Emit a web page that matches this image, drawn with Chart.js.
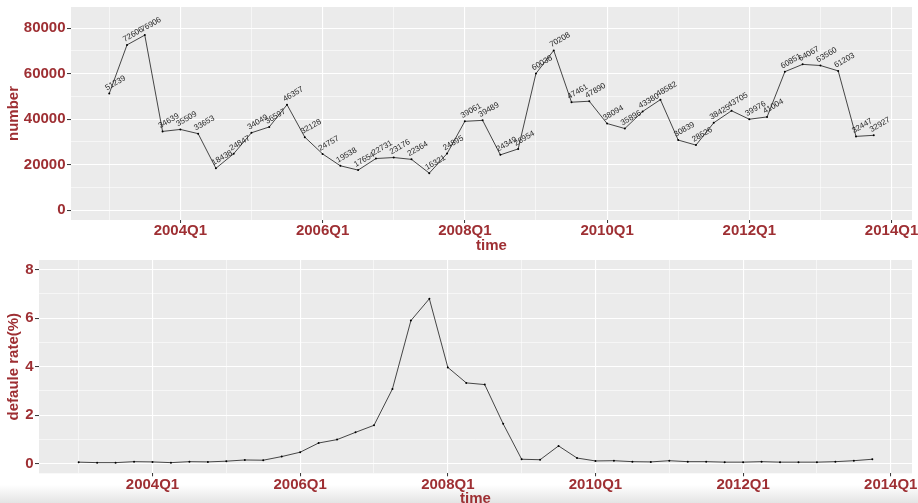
<!DOCTYPE html>
<html>
<head>
<meta charset="utf-8">
<title>number and default rate by quarter</title>
<script src="https://cdn.jsdelivr.net/npm/chart.js@4/dist/chart.umd.min.js"></script>
<style>
  html, body { margin: 0; padding: 0; width: 918px; height: 503px; overflow: hidden; background: #fff; }
  #shade { position: absolute; left: 0; top: 485px; width: 918px; height: 18px; background: linear-gradient(#ffffff, #e4e4e4); }
  canvas { position: absolute; left: 0; }
  #c1 { top: 0; }
  #c2 { top: 252px; }
</style>
</head>
<body>
<div id="shade"></div>
<canvas id="c1" width="918" height="256"></canvas>
<canvas id="c2" width="918" height="262"></canvas>
<script>
// quarters 2003Q1 .. 2013Q4
const quarters = [
  '2003Q1','2003Q2','2003Q3','2003Q4','2004Q1','2004Q2','2004Q3','2004Q4',
  '2005Q1','2005Q2','2005Q3','2005Q4','2006Q1','2006Q2','2006Q3','2006Q4',
  '2007Q1','2007Q2','2007Q3','2007Q4','2008Q1','2008Q2','2008Q3','2008Q4',
  '2009Q1','2009Q2','2009Q3','2009Q4','2010Q1','2010Q2','2010Q3','2010Q4',
  '2011Q1','2011Q2','2011Q3','2011Q4','2012Q1','2012Q2','2012Q3','2012Q4',
  '2013Q1','2013Q2','2013Q3','2013Q4'
];

// number per quarter
const numbers = [
  51239, 72606, 76906, 34639, 35509, 33653, 18438, 24847,
  34049, 36597, 46357, 32128, 24757, 19538, 17654, 22731,
  23176, 22364, 16321, 24895, 39061, 39489, 24349, 26954,
  60038, 70208, 47461, 47890, 38094, 35896, 43380, 48582,
  30839, 28626, 38425, 43705, 39976, 41004, 60851, 64067,
  63560, 61203, 32447, 32927
];

// default rate (%) per quarter
const defaultRate = [
  0.06, 0.04, 0.04, 0.08, 0.07, 0.04, 0.08, 0.07,
  0.10, 0.15, 0.14, 0.29, 0.47, 0.85, 0.99, 1.29,
  1.58, 3.08, 5.90, 6.80, 3.97, 3.33, 3.26, 1.64,
  0.18, 0.16, 0.73, 0.23, 0.11, 0.12, 0.08, 0.07,
  0.12, 0.08, 0.08, 0.06, 0.06, 0.08, 0.06, 0.06,
  0.06, 0.08, 0.12, 0.18
];

// axis breaks
const timeTicks = ['2004Q1', '2006Q1', '2008Q1', '2010Q1', '2012Q1', '2014Q1'];
const numberTicks = [0, 20000, 40000, 60000, 80000];
const rateTicks = [0, 2, 4, 6, 8];

const RED = '#9e2f33';
const FAMILY = '"Liberation Sans", Arial, Helvetica, sans-serif';

// position of a 'YYYYQn' label on the quarter axis (2003Q1 = 0)
function qIndex(label) {
  const y = +label.slice(0, 4), q = +label.slice(5);
  return (y - 2003) * 4 + (q - 1);
}
const xMajor = timeTicks.map(qIndex);
const xMinor = xMajor.map(v => v - 4);
const midpoints = arr => arr.slice(1).map((v, i) => (v + arr[i]) / 2);

// grey panel behind the plotting area
const panelBg = {
  id: 'panelBg',
  beforeDraw(chart) {
    const { ctx, chartArea: a } = chart;
    ctx.save();
    ctx.fillStyle = '#ebebeb';
    ctx.fillRect(a.left, a.top, a.right - a.left, a.bottom - a.top);
    ctx.restore();
  }
};

// slanted value text starting at each point
const valueLabels = {
  id: 'valueLabels',
  afterDatasetsDraw(chart, args, opts) {
    if (!opts || !opts.show) return;
    const meta = chart.getDatasetMeta(0);
    const data = chart.data.datasets[0].data;
    const ctx = chart.ctx;
    ctx.save();
    ctx.font = '8px ' + FAMILY;
    ctx.fillStyle = '#1e1e1e';
    ctx.textAlign = 'left';
    ctx.textBaseline = 'middle';
    meta.data.forEach((pt, i) => {
      ctx.save();
      ctx.translate(pt.x, pt.y);
      ctx.rotate(-30 * Math.PI / 180);
      ctx.fillText(String(data[i].y), -0.5, -6);
      ctx.restore();
    });
    ctx.restore();
  }
};

function makeChart(canvas, values, cfg) {
  const yMinor = midpoints(cfg.yTicks);
  const isMajorX = v => xMajor.includes(v);
  const isMajorY = v => cfg.yTicks.includes(v);
  return new Chart(canvas, {
    type: 'line',
    data: {
      datasets: [{
        data: values.map((v, i) => ({ x: qIndex(quarters[i]), y: v })),
        borderColor: '#1a1a1a',
        borderWidth: 0.8,
        pointRadius: 1,
        pointBackgroundColor: '#000',
        pointBorderWidth: 0,
        tension: 0,
        fill: false
      }]
    },
    options: {
      responsive: false,
      animation: false,
      devicePixelRatio: 1,
      layout: { padding: { top: cfg.padTop, right: 6, left: 0, bottom: 0 } },
      plugins: {
        legend: { display: false },
        tooltip: { enabled: false },
        valueLabels: { show: cfg.labels }
      },
      scales: {
        x: {
          type: 'linear',
          min: -2.15,
          max: 45.15,
          afterBuildTicks: s => {
            s.ticks = [...xMinor, ...xMajor].sort((a, b) => a - b).map(v => ({ value: v }));
          },
          afterFit: s => { s.height = cfg.xHeight; s.paddingLeft = 0; s.paddingRight = 0; },
          ticks: {
            autoSkip: false, maxRotation: 0, minRotation: 0,
            padding: cfg.xPad,
            color: RED,
            font: { family: FAMILY, size: 15, weight: 'bold' },
            callback: v => isMajorX(v) ? timeTicks[xMajor.indexOf(v)] : ''
          },
          grid: {
            color: '#ffffff',
            lineWidth: c => isMajorX(c.tick.value) ? 1.1 : 0.55,
            tickColor: c => isMajorX(c.tick.value) ? '#333333' : 'rgba(0,0,0,0)',
            tickLength: 3,
            tickWidth: 1
          },
          border: { display: false },
          title: {
            display: true, text: 'time', color: RED,
            font: { family: FAMILY, size: 15, weight: 'bold' },
            padding: { top: 0, bottom: cfg.titlePad }
          }
        },
        y: {
          type: 'linear',
          min: cfg.yMin,
          max: cfg.yMax,
          afterBuildTicks: s => {
            s.ticks = [...cfg.yTicks, ...yMinor].sort((a, b) => a - b).map(v => ({ value: v }));
          },
          afterFit: s => { s.width = cfg.yWidth; s.paddingTop = 0; s.paddingBottom = 0; },
          ticks: {
            padding: 1.5,
            color: RED,
            font: { family: FAMILY, size: 15, weight: 'bold' },
            callback: v => isMajorY(v) ? String(v) : ''
          },
          grid: {
            color: '#ffffff',
            lineWidth: c => isMajorY(c.tick.value) ? 1.1 : 0.55,
            tickColor: c => isMajorY(c.tick.value) ? '#333333' : 'rgba(0,0,0,0)',
            tickLength: 4,
            tickWidth: 1
          },
          border: { display: false },
          title: {
            display: true, text: cfg.yTitle, color: RED,
            font: { family: FAMILY, size: 15, weight: 'bold' },
            padding: { top: 5, bottom: 0 }
          }
        }
      }
    },
    plugins: [panelBg, valueLabels]
  });
}

makeChart(document.getElementById('c1'), numbers, {
  yTicks: numberTicks, yMin: -4250, yMax: 89250,
  yTitle: 'number', yWidth: 71,
  padTop: 7, xHeight: 36, xPad: -1, titlePad: 1,
  labels: true
});

makeChart(document.getElementById('c2'), defaultRate, {
  yTicks: rateTicks, yMin: -0.4, yMax: 8.4,
  yTitle: 'defaule rate(%)', yWidth: 39,
  padTop: 8, xHeight: 40.7, xPad: -0.5, titlePad: 6,
  labels: false
});
</script>
</body>
</html>
